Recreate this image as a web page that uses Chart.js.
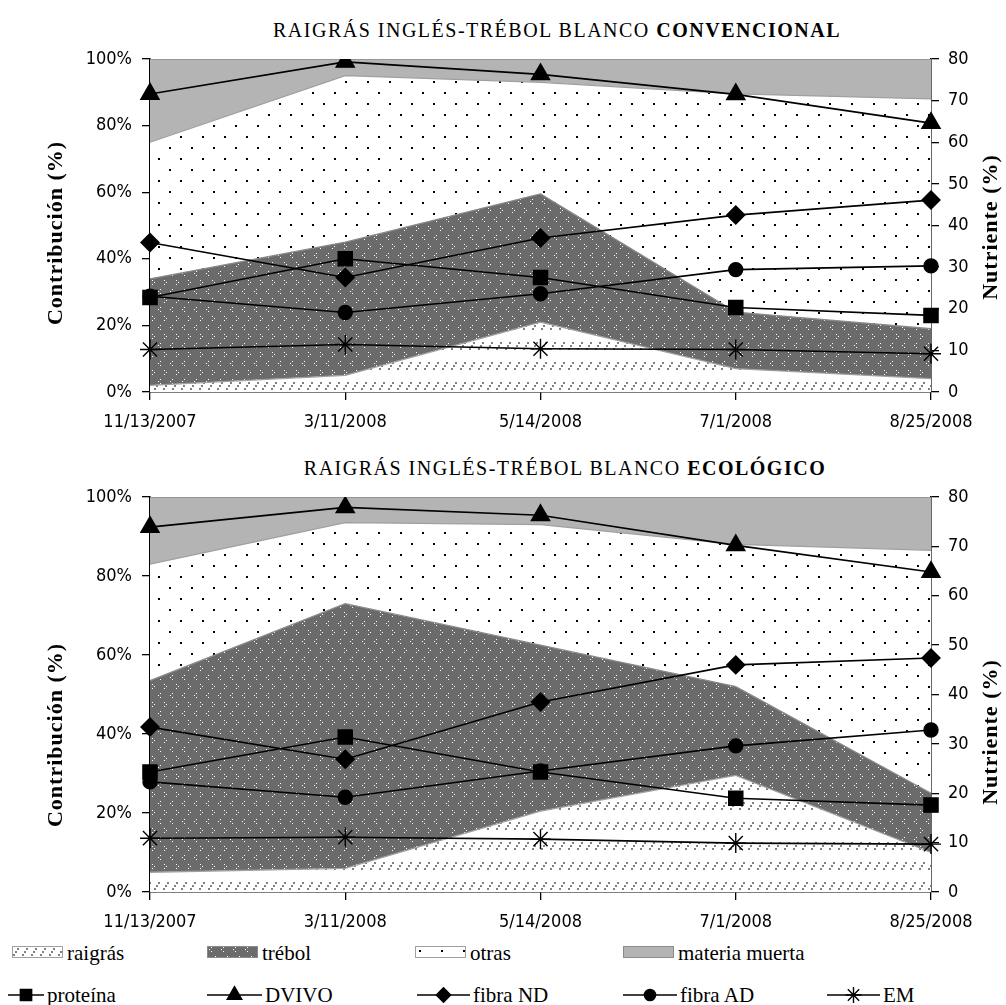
<!DOCTYPE html>
<html>
<head>
<meta charset="utf-8">
<script src="https://cdn.jsdelivr.net/npm/chart.js@4.4.1/dist/chart.umd.min.js"></script>
<style>
	body { margin: 0; background: #fff; }
	#lienzo { position: relative; width: 1006px; height: 1005px; overflow: hidden; background: #fff; }
	canvas.graf { position: absolute; left: 0; }
	.titulo { position: absolute; white-space: nowrap; transform: translate(-50%, -50%);
		font-family: 'Liberation Serif', serif; font-size: 20px; letter-spacing: 1.5px; color: #000; }
	.eje { position: absolute; white-space: nowrap; transform: translate(-50%, -50%) rotate(-90deg);
		font-family: 'Liberation Serif', serif; font-weight: bold; font-size: 22px; letter-spacing: 1px; color: #000; }
	.ley { position: absolute; white-space: nowrap; transform: translateY(-50%);
		font-family: 'Liberation Serif', serif; font-size: 21px; color: #000; }
	canvas.sw { position: absolute; }
</style>
</head>
<body>
<div id="lienzo">
	<div class="titulo" style="left:557px; top:30px;">RAIGRÁS INGLÉS-TRÉBOL BLANCO <b>CONVENCIONAL</b></div>
	<div class="titulo" style="left:565px; top:468px;">RAIGRÁS INGLÉS-TRÉBOL BLANCO <b>ECOLÓGICO</b></div>
	<canvas id="grafConv" class="graf" width="1006" height="440" style="top:0px;"></canvas>
	<canvas id="grafEco" class="graf" width="1006" height="500" style="top:440px;"></canvas>
	<div class="eje" style="left:55px; top:233px;">Contribución (%)</div>
	<div class="eje" style="left:990px; top:227px;">Nutriente (%)</div>
	<div class="eje" style="left:55px; top:735px;">Contribución (%)</div>
	<div class="eje" style="left:990px; top:732px;">Nutriente (%)</div>
</div>
<script>
'use strict';

// *** Datos ***
const fechas = ['11/13/2007', '3/11/2008', '5/14/2008', '7/1/2008', '8/25/2008'];

// convencional: contribución (%)
const convRaigras = [2, 5, 21, 7, 4];
const convTrebol = [32, 40, 38.5, 17, 15];
const convOtras = [41, 50, 33.5, 65.5, 69];
const convMuerta = [25, 5, 7, 10.5, 12];
// convencional: nutriente (%)
const convProteina = [22.7, 32, 27.5, 20.3, 18.4];
const convDvivo = [71.6, 79.3, 76.3, 71.5, 64.6];
const convFibraND = [35.9, 27.5, 37, 42.5, 46.1];
const convFibraAD = [23, 19.1, 23.6, 29.4, 30.3];
const convEM = [10.2, 11.4, 10.4, 10.2, 9.2];

// ecológico: contribución (%)
const ecoRaigras = [5, 6, 20.5, 29.5, 10];
const ecoTrebol = [48.5, 67, 42, 22.5, 15];
const ecoOtras = [29.5, 20.5, 30.5, 36, 61.5];
const ecoMuerta = [17, 6.5, 7, 12, 13.5];
// ecológico: nutriente (%)
const ecoProteina = [24.3, 31.4, 24.3, 19, 17.6];
const ecoDvivo = [73.9, 77.9, 76.3, 70.2, 64.8];
const ecoFibraND = [33.4, 26.9, 38.5, 46, 47.4];
const ecoFibraAD = [22.3, 19.2, 24.5, 29.6, 32.8];
const ecoEM = [10.9, 11.1, 10.7, 9.9, 9.7];

const ticksIzq = [0, 20, 40, 60, 80, 100];
const ticksDer = [0, 10, 20, 30, 40, 50, 60, 70, 80];

const nombresAreas = ['raigrás', 'trébol', 'otras', 'materia muerta'];
const nombresLineas = ['proteína', 'DVIVO', 'fibra ND', 'fibra AD', 'EM'];

// *** Patrones ***
function patron(w, h, dibujar) {
	const c = document.createElement('canvas');
	c.width = w;
	c.height = h;
	const g = c.getContext('2d');
	dibujar(g);
	return g.createPattern(c, 'repeat');
}

const patRaigras = patron(9, 20, (g) => {
	g.fillStyle = '#fff';
	g.fillRect(0, 0, 9, 20);
	g.fillStyle = '#808080';
	g.fillRect(1, 8, 2, 2);
	g.fillRect(3, 5, 2, 2);
	g.fillRect(5, 2, 2, 2);
});
const patTrebol = patron(12, 18, (g) => {
	g.fillStyle = '#6b6b6b';
	g.fillRect(0, 0, 12, 18);
	g.fillStyle = '#fff';
	// '<'
	g.fillRect(4, 1, 1, 1);
	g.fillRect(2, 3, 1, 1);
	g.fillRect(4, 5, 1, 1);
	// '>'
	g.fillRect(8, 10, 1, 1);
	g.fillRect(10, 12, 1, 1);
	g.fillRect(8, 14, 1, 1);
});
const patOtras = patron(22, 22, (g) => {
	g.fillStyle = '#fff';
	g.fillRect(0, 0, 22, 22);
	g.fillStyle = '#000';
	g.fillRect(4, 4, 2, 2);
	g.fillRect(15, 15, 2, 2);
});
const grisMuerta = '#b4b4b4';

const rellenos = [patRaigras, patTrebol, patOtras, grisMuerta];
const bordesArea = ['#a0a0a0', '#8a8a8a', '#a0a0a0', '#8c8c8c'];
const estilosLinea = [
	{ estilo: 'rect', radio: 10 },
	{ estilo: 'triangle', radio: 10.5 },
	{ estilo: 'rectRot', radio: 9 },
	{ estilo: 'circle', radio: 7 },
	{ estilo: 'star', radio: 10 },
];

// *** Datasets ***
function prepararDatasets(areas, lineas) {
	const ary = [];
	areas.forEach((datos, i) => {
		ary.push({
			type: 'line',
			label: nombresAreas[i],
			yAxisID: 'y',
			data: datos,
			fill: i === 0 ? 'origin' : '-1',
			backgroundColor: rellenos[i],
			borderColor: bordesArea[i],
			borderWidth: 1.3,
			pointRadius: 0,
			tension: 0,
			order: 5,
		});
	});
	lineas.forEach((datos, i) => {
		ary.push({
			type: 'line',
			label: nombresLineas[i],
			yAxisID: 'y1',
			data: datos,
			fill: false,
			borderColor: '#000',
			backgroundColor: '#000',
			borderWidth: 1.6,
			pointStyle: estilosLinea[i].estilo,
			pointRadius: estilosLinea[i].radio,
			pointBorderWidth: 1.4,
			pointBackgroundColor: '#000',
			pointBorderColor: '#000',
			tension: 0,
			order: 1,
		});
	});
	return ary;
}

const fuenteTick = { family: "'DejaVu Sans Condensed', 'DejaVu Sans', sans-serif", size: 18 };

function prepararOpciones(paddingTop, altoX) {
	const rejilla = { display: true, drawOnChartArea: false, drawTicks: true, tickLength: 8, color: '#000', lineWidth: 1.3 };
	const borde = { display: true, color: '#000', width: 1.6 };
	return {
		responsive: false,
		animation: false,
		devicePixelRatio: 1,
		layout: { padding: { top: paddingTop, left: 0, right: 0, bottom: 0 } },
		plugins: { legend: { display: false }, tooltip: { enabled: false }, title: { display: false } },
		scales: {
			x: {
				type: 'category',
				offset: false,
				grid: rejilla,
				border: borde,
				ticks: { color: '#000', font: fuenteTick, padding: 12, maxRotation: 0, autoSkip: false },
				afterFit: (s) => { s.height = altoX; },
			},
			y: {
				type: 'linear',
				position: 'left',
				stacked: true,
				min: 0,
				max: 100,
				grid: rejilla,
				border: borde,
				afterBuildTicks: (s) => { s.ticks = ticksIzq.map((v) => ({ value: v })); },
				ticks: { color: '#000', font: fuenteTick, padding: 10, callback: (v) => v + '%' },
				afterFit: (s) => { s.width = 150; },
			},
			y1: {
				type: 'linear',
				position: 'right',
				stacked: false,
				min: 0,
				max: 80,
				grid: rejilla,
				border: borde,
				afterBuildTicks: (s) => { s.ticks = ticksDer.map((v) => ({ value: v })); },
				ticks: { color: '#000', font: fuenteTick, padding: 9 },
				afterFit: (s) => { s.width = 75; },
			},
		},
	};
}

new Chart(document.getElementById('grafConv'), {
	type: 'line',
	data: {
		labels: fechas,
		datasets: prepararDatasets(
			[convRaigras, convTrebol, convOtras, convMuerta],
			[convProteina, convDvivo, convFibraND, convFibraAD, convEM]
		),
	},
	options: prepararOpciones(59, 48),
});

new Chart(document.getElementById('grafEco'), {
	type: 'line',
	data: {
		labels: fechas,
		datasets: prepararDatasets(
			[ecoRaigras, ecoTrebol, ecoOtras, ecoMuerta],
			[ecoProteina, ecoDvivo, ecoFibraND, ecoFibraAD, ecoEM]
		),
	},
	options: prepararOpciones(57, 48),
});

// *** Leyenda ***
const lienzo = document.getElementById('lienzo');

function muestra(x, y, w, h) {
	const c = document.createElement('canvas');
	c.className = 'sw';
	c.width = w;
	c.height = h;
	c.style.left = x + 'px';
	c.style.top = y + 'px';
	lienzo.appendChild(c);
	return c.getContext('2d');
}

function texto(x, y, t) {
	const d = document.createElement('div');
	d.className = 'ley';
	d.style.left = x + 'px';
	d.style.top = y + 'px';
	d.textContent = t;
	lienzo.appendChild(d);
}

const xAreas = [12, 207, 415, 623];
nombresAreas.forEach((n, i) => {
	const g = muestra(xAreas[i], 946, 51, 12);
	g.fillStyle = rellenos[i];
	g.fillRect(0, 0, 51, 12);
	g.strokeStyle = bordesArea[i];
	g.lineWidth = 1;
	g.strokeRect(0.5, 0.5, 50, 11);
	texto(xAreas[i] + 55, 953, n);
});

const xLineas = [8, 207, 417, 623, 827];
const anchoLineas = [36, 55, 53, 54, 53];
nombresLineas.forEach((n, i) => {
	const w = anchoLineas[i];
	const g = muestra(xLineas[i], 983, w, 24);
	g.strokeStyle = '#000';
	g.fillStyle = '#000';
	g.lineWidth = 1.6;
	g.beginPath();
	g.moveTo(0, 12);
	g.lineTo(w, 12);
	g.stroke();
	g.lineWidth = 1.4;
	Chart.helpers.drawPoint(g, { pointStyle: estilosLinea[i].estilo, radius: estilosLinea[i].radio * 0.8, rotation: 0, borderWidth: 1.4 }, w / 2, 12);
	texto(xLineas[i] + w + 3, 995, n);
});
</script>
</body>
</html>
